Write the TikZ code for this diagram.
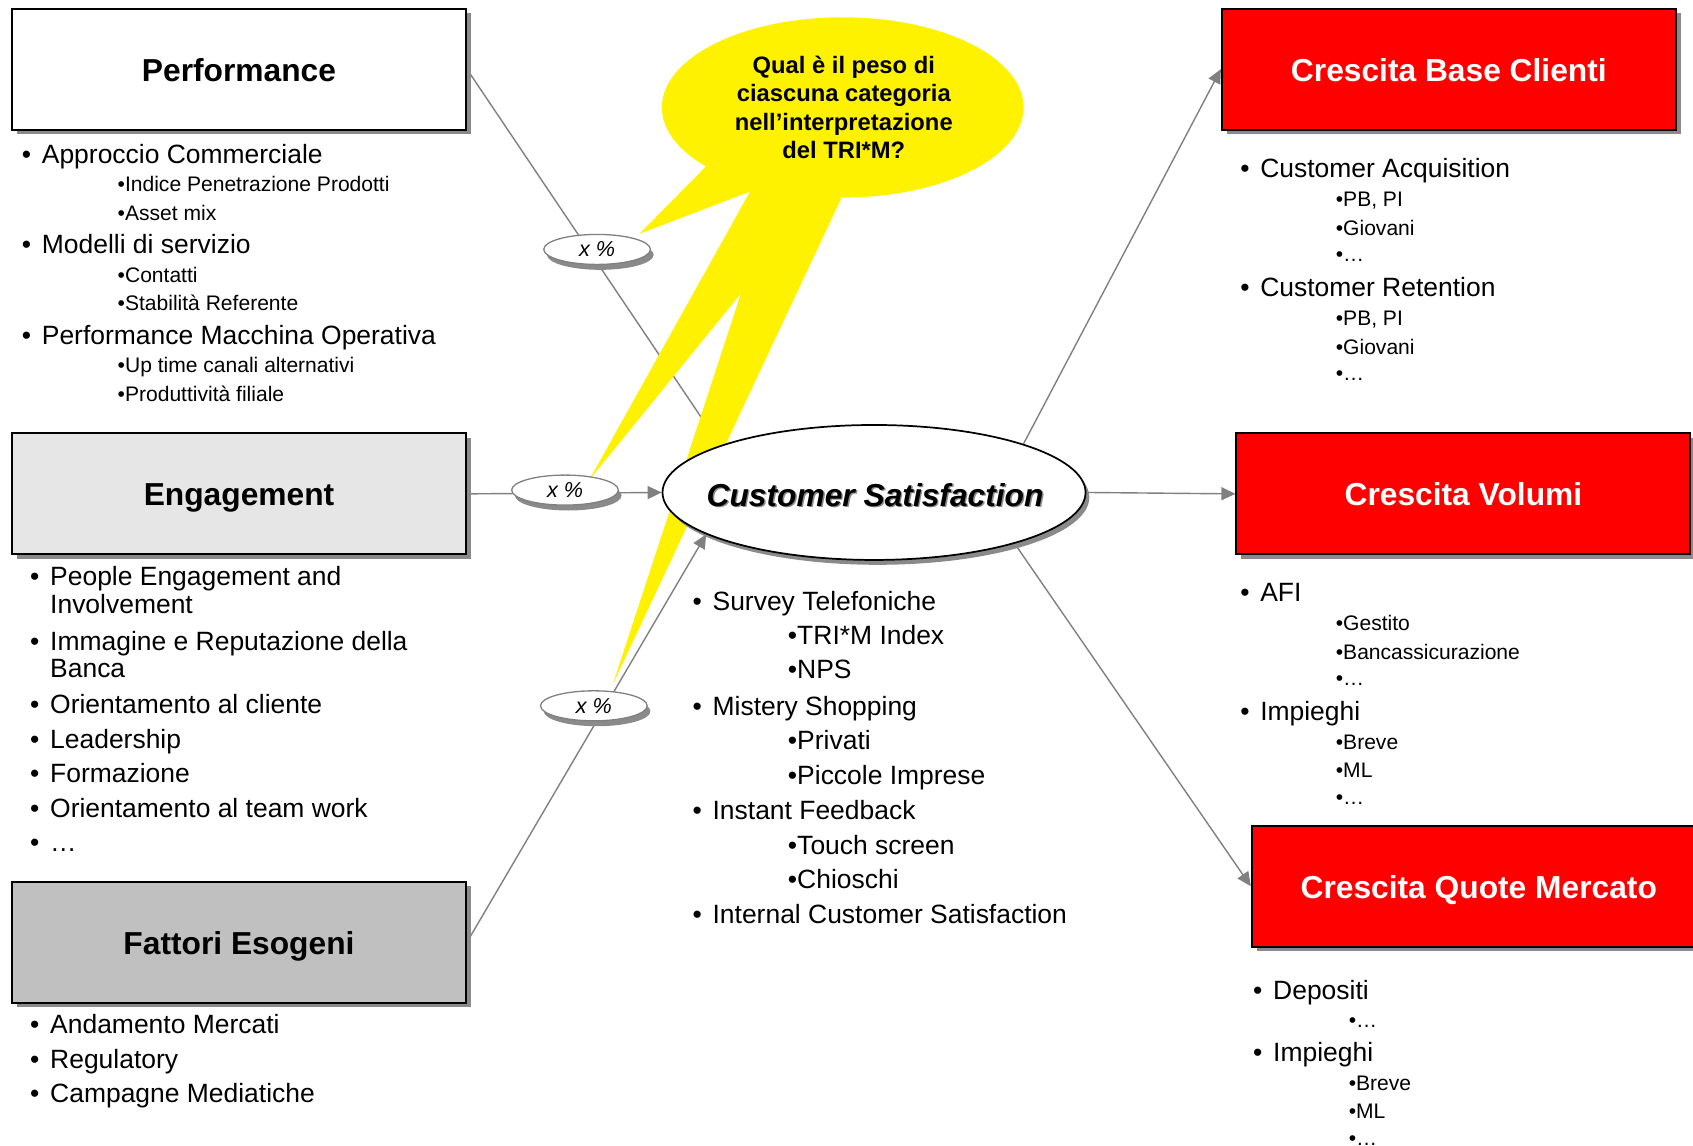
\documentclass[tikz,border=0pt]{standalone}
\usepackage{fontspec}
\setmainfont{Liberation Sans}
\usetikzlibrary{shapes.geometric,arrows.meta,shadows,calc}
\definecolor{linegray}{HTML}{808080}
\definecolor{shadowgray}{HTML}{8A8A8A}
\definecolor{cred}{HTML}{FF0000}
\definecolor{cyellow}{HTML}{FFF200}
\definecolor{englight}{HTML}{E6E6E6}
\definecolor{fatgray}{HTML}{C0C0C0}
\newcommand\fbig{\fontsize{24.5}{29}\selectfont}
\newcommand\fsml{\fontsize{19.5}{23}\selectfont}
\newcommand\BigItem[4]{\node[itm] (#1) at (#2,#3) {\fbig\llap{\makebox[18.5pt][l]{•}}#4};}
\newcommand\ContLine[4]{\node[itm] (#1) at (#2,#3) {\fbig #4};}
\newcommand\SubItem[4]{\node[itm] (#1) at (#2,#3) {\fsml •#4};}
\newcommand\SubBig[4]{\node[itm] (#1) at (#2,#3) {\fbig •#4};}
\pgfdeclarelayer{bg}
\pgfdeclarelayer{mid}
\pgfsetlayers{bg,mid,main}
\begin{document}
\begin{tikzpicture}[x=1pt,y=-1pt,
  itm/.style={anchor=base west,inner sep=0pt},
  box/.style={draw=black,line width=1.8pt,minimum width=420.5pt,minimum height=112pt,inner sep=0pt,
    font=\fontsize{29.4}{35}\selectfont\bfseries,text height=22pt,text depth=0pt,
    drop shadow={shadow xshift=4.4pt,shadow yshift=-4.4pt,fill=shadowgray,opacity=1}},
  redbox/.style={box,fill=cred,text=white},
  pct/.style={ellipse,draw=linegray,line width=1.2pt,fill=white,minimum width=98.8pt,minimum height=27.8pt,
    inner sep=0pt,font=\fontsize{20}{22}\selectfont\itshape,text height=14pt,text depth=0pt,
    drop shadow={shadow xshift=3pt,shadow yshift=-5pt,fill=shadowgray,opacity=1}},
  conn/.style={draw=linegray,line width=1.3pt,-{Triangle[length=13pt,width=12pt]}},
  qtxt/.style={anchor=base,inner sep=0pt,font=\fontsize{22}{26}\selectfont\bfseries}]
\useasboundingbox (0,0) rectangle (1568,1061);
\clip (0,0) rectangle (1568,1061);

% left boxes
\node[box,fill=white] (perf) at (221.35,64.05) {Performance};
\node[box,fill=englight] (eng) at (221.35,457.4) {Engagement};
\node[box,fill=fatgray] (fat) at (221.35,872.6) {Fattori Esogeni};
% right boxes
\node[redbox] (cbc) at (1341.9,64.05) {Crescita Base Clienti};
\node[redbox] (cv) at (1355.35,457.4) {Crescita Volumi};
\node[redbox] (cqm) at (1369.6,820.75) {Crescita Quote Mercato};

% central ellipse
\node[ellipse,draw=black,line width=1.6pt,fill=white,minimum width=391.8pt,minimum height=125pt,inner sep=0pt,
  drop shadow={shadow xshift=3.5pt,shadow yshift=-4.5pt,fill=shadowgray,opacity=1}]
  (cs) at (809.5,456.1) {};
\node[anchor=base,inner sep=0pt,font=\fontsize{29.4}{35}\selectfont\bfseries\itshape] (cstxt) at (810.5,468.7)
  {\rlap{\textcolor{shadowgray}{\kern1.3pt\raisebox{-1.3pt}{Customer Satisfaction}}}Customer Satisfaction};

% weight labels
\node[pct] (x1) at (553,231) {x \%};
\node[pct] (x2) at (523.3,453.9) {x \%};
\node[pct] (x3) at (550,653.7) {x \%};

% connectors
\begin{pgfonlayer}{bg}
\draw[conn] (perf.east) -- (cs.163);
\draw[conn] (eng.east) -- (cs.west);
\draw[conn] (fat.east) -- (cs.194);
\draw[conn] (cs.18) -- (cbc.west);
\draw[conn] (cs.east) -- (cv.west);
\draw[conn] (cs.-20) -- (cqm.west);
\end{pgfonlayer}

% callout
\begin{pgfonlayer}{mid}
\fill[cyellow] (780.5,99.5) ellipse [x radius=167.5, y radius=83.5];
\fill[cyellow] (656,152) -- (592,216.7) -- (694.6,177.5) -- (545.5,445) -- (686.3,271.7)
  -- (567.5,634) -- (779,184) -- (720,130) -- cycle;
\end{pgfonlayer}
\node[qtxt] (q1) at (781.5,67.9) {Qual è il peso di};
\node[qtxt] (q2) at (781.5,94.2) {ciascuna categoria};
\node[qtxt] (q3) at (781.5,120.4) {nell’interpretazione};
\node[qtxt] (q4) at (781.5,146.6) {del TRI*M?};

% Performance list
\BigItem{p1}{38.6}{151.3}{Approccio Commerciale}
\SubItem{p1a}{108.8}{177.5}{Indice Penetrazione Prodotti}
\SubItem{p1b}{108.8}{203.8}{Asset mix}
\BigItem{p2}{38.6}{234.6}{Modelli di servizio}
\SubItem{p2a}{108.8}{261.8}{Contatti}
\SubItem{p2b}{108.8}{288}{Stabilità Referente}
\BigItem{p3}{38.6}{318.6}{Performance Macchina Operativa}
\SubItem{p3a}{108.8}{345.2}{Up time canali alternativi}
\SubItem{p3b}{108.8}{371.4}{Produttività filiale}

% Engagement list
\BigItem{e1}{46.3}{542.4}{People Engagement and}
\ContLine{e1b}{46.3}{568.1}{Involvement}
\BigItem{e2}{46.3}{602}{Immagine e Reputazione della}
\ContLine{e2b}{46.3}{627.7}{Banca}
\BigItem{e3}{46.3}{660.7}{Orientamento al cliente}
\BigItem{e4}{46.3}{693.1}{Leadership}
\BigItem{e5}{46.3}{724.9}{Formazione}
\BigItem{e6}{46.3}{757.3}{Orientamento al team work}
\BigItem{e7}{46.3}{788.8}{…}

% Fattori list
\BigItem{f1}{46.3}{957}{Andamento Mercati}
\BigItem{f2}{46.3}{989.5}{Regulatory}
\BigItem{f3}{46.3}{1021.3}{Campagne Mediatiche}

% Customer Satisfaction list
\BigItem{s1}{659.8}{565}{Survey Telefoniche}
\SubBig{s1a}{729.6}{596.5}{TRI*M Index}
\SubBig{s1b}{729.6}{628.3}{NPS}
\BigItem{s2}{659.8}{662.2}{Mistery Shopping}
\SubBig{s2a}{729.6}{694}{Privati}
\SubBig{s2b}{729.6}{726.1}{Piccole Imprese}
\BigItem{s3}{659.8}{758.9}{Instant Feedback}
\SubBig{s3a}{729.6}{791}{Touch screen}
\SubBig{s3b}{729.6}{822.8}{Chioschi}
\BigItem{s4}{659.8}{855.2}{Internal Customer Satisfaction}

% Crescita Base Clienti list
\BigItem{c1}{1167}{164.2}{Customer Acquisition}
\SubItem{c1a}{1237}{191.4}{PB, PI}
\SubItem{c1b}{1237}{217.7}{Giovani}
\SubItem{c1c}{1237}{242.4}{…}
\BigItem{c2}{1167}{274.8}{Customer Retention}
\SubItem{c2a}{1237}{301.6}{PB, PI}
\SubItem{c2b}{1237}{327.9}{Giovani}
\SubItem{c2c}{1237}{352.6}{…}

% Crescita Volumi list
\BigItem{v1}{1167}{557.3}{AFI}
\SubItem{v1a}{1237}{584.1}{Gestito}
\SubItem{v1b}{1237}{610.4}{Bancassicurazione}
\SubItem{v1c}{1237}{635.1}{…}
\BigItem{v2}{1167}{666.9}{Impieghi}
\SubItem{v2a}{1237}{694}{Breve}
\SubItem{v2b}{1237}{720}{ML}
\SubItem{v2c}{1237}{744.7}{…}

% Crescita Quote Mercato list
\BigItem{m1}{1179}{925.3}{Depositi}
\SubItem{m1a}{1249}{951.8}{…}
\BigItem{m2}{1179}{983.3}{Impieghi}
\SubItem{m2a}{1249}{1010.2}{Breve}
\SubItem{m2b}{1249}{1035.8}{ML}
\SubItem{m2c}{1249}{1060.5}{…}
\end{tikzpicture}
\end{document}
